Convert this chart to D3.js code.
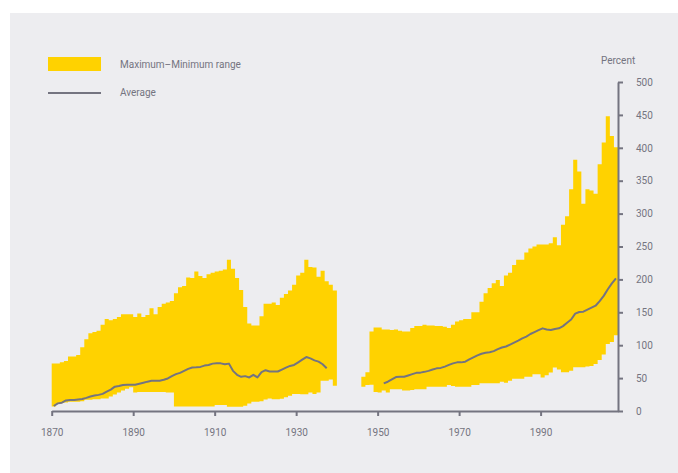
<!DOCTYPE html>
<html>
<head>
<meta charset="utf-8">
<script src="https://cdn.jsdelivr.net/npm/d3@7"></script>
<style>
  body { margin: 0; background: #fff; }
  text { font-family: Roboto, "Liberation Sans", sans-serif; fill: #747480; }
</style>
</head>
<body>
<div id="chart"></div>
<script>

// years with data: 1870-1939 and 1946-2008 (no data during the war)
var prewarYears = d3.range(1870, 1940);
var postwarYears = d3.range(1946, 2009);

var prewarMax = [72, 72, 74, 76, 83, 83, 85, 97, 109, 118,
    120, 122, 131, 140, 138, 140, 143, 147, 147, 147,
    143, 148, 143, 146, 156, 147, 158, 163, 165, 167,
    179, 188, 190, 203, 202, 212, 205, 202, 208, 210,
    212, 213, 215, 230, 216, 202, 184, 158, 133, 130,
    130, 144, 163, 163, 165, 161, 172, 178, 183, 192,
    206, 210, 230, 219, 218, 204, 213, 197, 192, 183];

var prewarMin = [7, 11, 12, 13, 14, 14, 14, 15, 17, 17,
    18, 18, 19, 19, 22, 25, 28, 31, 34, 36,
    28, 29, 29, 29, 29, 29, 29, 29, 28, 28,
    7, 7, 7, 7, 7, 7, 7, 7, 7, 7,
    9, 9, 9, 6.5, 6.5, 6.5, 6.5, 8, 11.5, 14,
    14, 15, 17.5, 19, 18, 18, 18.5, 21, 23, 26,
    26, 25.5, 25.5, 28, 26, 28, 46, 46, 48, 38.5];

var postwarMax = [52, 59, 121, 127,
    127, 124, 124, 123, 124, 122, 121, 121, 126, 129,
    129, 131, 130, 130, 129, 129, 128, 126, 131, 136,
    138, 140, 140, 150, 150, 166, 179, 187, 194, 199,
    190, 206, 210, 222, 230, 230, 241, 247, 250, 253,
    253, 253, 255, 264, 252, 283, 296, 337, 382, 364,
    315, 337, 335, 330, 375, 408, 448, 418, 401];

var postwarMin = [37, 39.5, 40, 29,
    28, 31, 28, 33, 33, 33, 31, 31, 32, 33,
    33, 33, 37, 37, 37, 37, 37, 39.5, 38, 37,
    37, 37, 37, 39.5, 39.5, 42, 42, 42, 42, 42,
    44.5, 43, 46, 49, 49, 49, 52, 52, 56, 56,
    51, 54.5, 58.5, 66, 63, 59, 59, 61, 66.5, 66.5,
    66.5, 67.5, 68.5, 71.5, 77.5, 86, 102, 105, 115];

// average line: 1870-1937 and 1951-2008
var avgYearsA = d3.range(1870, 1938);
var avgA = [7.6, 11.6, 12.7, 16, 16.7, 16.7, 17.5, 18.2, 20, 22,
    23.5, 24.5, 26, 29.4, 32.5, 37, 38, 39.5, 40, 40,
    40, 41.5, 43, 44.6, 46, 46, 46, 47.5, 49.5, 53,
    56, 58, 61, 64, 66, 66.4, 67, 69, 70, 72,
    72.4, 72.4, 71, 72, 61, 55, 52, 53, 51, 55,
    51, 59, 62, 60, 60, 60, 63, 66, 68.5, 70,
    74, 78, 82, 80, 77, 75, 71, 65];

var avgYearsB = d3.range(1951, 2009);
var avgB = [42, 44.5, 48, 51.5, 52, 52, 54, 56, 58, 58.3,
    59.5, 61, 63, 64.8, 65.5, 67.4, 70, 72.4, 73.9, 73.9,
    75, 78.5, 81.5, 84.5, 87, 88.6, 89.2, 91, 94, 96.5,
    98, 101, 104, 107, 110.4, 113, 117, 120, 123, 125.6,
    124, 123, 124.5, 125.6, 129, 134, 139, 148, 150.5, 151,
    154, 157, 160, 167, 175, 185, 194, 201.6];

var xTicks = [1870, 1890, 1910, 1930, 1950, 1970, 1990];
var yTicks = [0, 50, 100, 150, 200, 250, 300, 350, 400, 450, 500];

var yellow = "#FFD200", grey = "#747480";

var width = 678, height = 473;

var svg = d3.select("#chart").append("svg")
    .attr("width", width)
    .attr("height", height);

svg.append("rect")
    .attr("x", 10).attr("y", 13)
    .attr("width", width - 10).attr("height", height - 13)
    .attr("fill", "#EDEDF0");

var x = d3.scaleLinear().domain([1870, 2009]).range([51.7, 618]);
var y = d3.scaleLinear().domain([0, 500]).range([411, 82]);

// each period is one stepped band, so no seams between the yearly bars
var area = d3.area()
    .curve(d3.curveStepAfter)
    .x(function (d) { return x(d.year); })
    .y0(function (d) { return y(d.min); })
    .y1(function (d) { return y(d.max); });

function band(years, maxs, mins) {
    var rows = years.map(function (yr, i) {
        return {year: yr, max: maxs[i], min: mins[i]};
    });
    var last = rows[rows.length - 1];
    rows.push({year: last.year + 1, max: last.max, min: last.min}); // close the last step
    return rows;
}

svg.append("g").selectAll("path")
    .data([band(prewarYears, prewarMax, prewarMin), band(postwarYears, postwarMax, postwarMin)])
    .enter().append("path")
    .attr("d", area)
    .attr("fill", yellow);

var line = d3.line()
    .x(function (d) { return x(d[0] + 0.5); })
    .y(function (d) { return y(d[1]); });

[[avgYearsA, avgA], [avgYearsB, avgB]].forEach(function (s) {
    var pts = s[0].map(function (yr, i) { return [yr, s[1][i]]; });
    svg.append("path")
        .datum(pts)
        .attr("d", line)
        .attr("fill", "none")
        .attr("stroke", grey)
        .attr("stroke-width", 2)
        .attr("stroke-linejoin", "round");
});

// axes
var xAxis = svg.append("g")
    .attr("transform", "translate(0," + y(0) + ")")
    .call(d3.axisBottom(x).tickValues(xTicks).tickFormat(d3.format("d"))
        .tickSize(5).tickSizeOuter(0).tickPadding(13));

var yAxis = svg.append("g")
    .attr("transform", "translate(" + x(2009) + ",0)")
    .call(d3.axisRight(y).tickValues(yTicks).tickSize(5).tickSizeOuter(0).tickPadding(13));

[xAxis, yAxis].forEach(function (a) {
    a.select(".domain").attr("stroke", grey).attr("stroke-width", 2);
    a.selectAll(".tick line").attr("stroke", grey).attr("stroke-width", 2);
    a.selectAll(".tick text").attr("fill", grey).style("font-size", "10px")
        .style("font-family", "Roboto, sans-serif");
});

svg.append("text")
    .attr("x", 601).attr("y", 64)
    .style("font-size", "10px")
    .text("Percent");

// legend
svg.append("rect")
    .attr("x", 48).attr("y", 57)
    .attr("width", 53).attr("height", 14)
    .attr("fill", yellow);

svg.append("line")
    .attr("x1", 48).attr("x2", 101)
    .attr("y1", 93).attr("y2", 93)
    .attr("stroke", grey).attr("stroke-width", 2);

svg.append("text")
    .attr("x", 120).attr("y", 68)
    .style("font-size", "10px")
    .text("Maximum–Minimum range");

svg.append("text")
    .attr("x", 120).attr("y", 96)
    .style("font-size", "10px")
    .text("Average");

</script>
</body>
</html>
